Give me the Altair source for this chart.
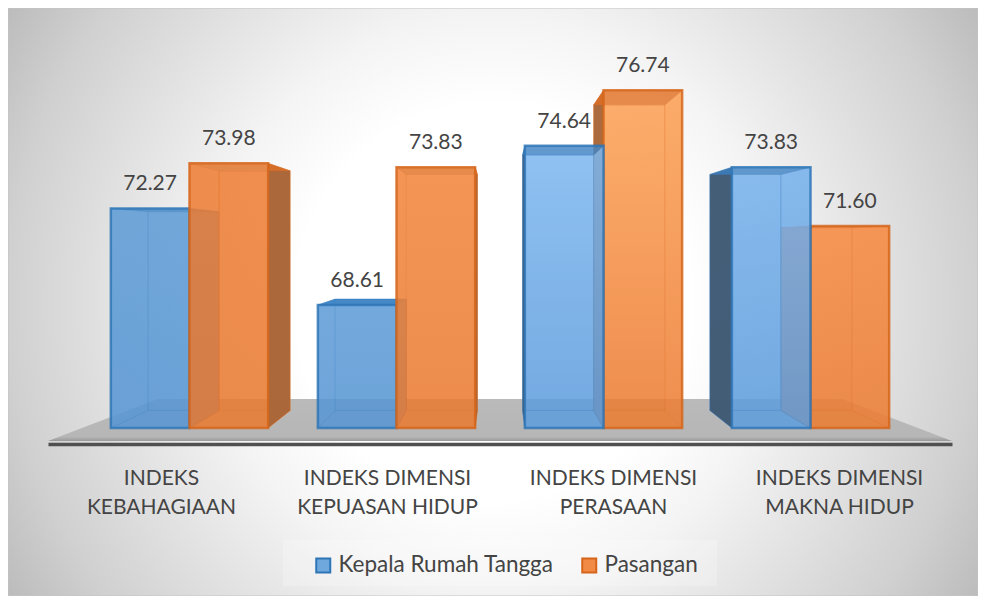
import altair as alt
import pandas as pd

categories = ["INDEKS|KEBAHAGIAAN", "INDEKS DIMENSI|KEPUASAN HIDUP",
              "INDEKS DIMENSI|PERASAAN", "INDEKS DIMENSI|MAKNA HIDUP"]
series = ["Kepala Rumah Tangga", "Pasangan"]
kepala = [72.27, 68.61, 74.64, 73.83]
pasangan = [73.98, 73.83, 76.74, 71.60]

# colour of each bar, top and bottom of its gradient
kepala_top = ["#5B9AD6", "#5B9AD6", "#80BAF3", "#78B3EE"]
kepala_bot = ["#5293D1", "#5293D1", "#5B9CDD", "#5B9CDD"]
pasangan_top = ["#ED7B31", "#F38338", "#FFA356", "#F9893F"]
pasangan_bot = ["#E9772D", "#E9772D", "#EC792F", "#EC792F"]
dark = {"Kepala Rumah Tangga": "#3F566E", "Pasangan": "#A5653A"}
edge = {"Kepala Rumah Tangga": "#3A80C2", "Pasangan": "#E06E22"}
base_fill = {"Kepala Rumah Tangga": "#6FA8DC", "Pasangan": "#F08A45"}

# painter's order in each group: the bar farther from the middle goes first
draw_order = [[0, 1], [0, 1], [1, 0], [1, 0]]

Y_BASE = 63.95          # value at the foot of the bars
Y_VANISH = 70.96        # height of the vanishing point
X_VANISH = 1.5
FRONT = 0.916           # bar plane relative to the axis plane
DEPTH = 0.095           # how far the back of a box shrinks
BAR_W = 0.348
FLOOR_BACK = 0.757
FLOOR_Y_FRONT = 63.46
FLOOR_Y_BACK = 65.05

xs = alt.Scale(domain=[-0.5, 3.5], nice=False, zero=False)
ys = alt.Scale(domain=[63.345, 79.86], nice=False, zero=False)
label_expr = "split(" + str(categories) + "[datum.value], '|')"
x_axis = alt.Axis(values=[0, 1, 2, 3], labelExpr=label_expr, grid=False, ticks=False, title=None,
                  domain=True, domainColor="#505050", domainWidth=3.5, zindex=1,
                  labelFont="Lato", labelFontSize=21, labelColor="#444444",
                  labelLineHeight=29.5, labelPadding=23, labelOverlap=False, labelFlush=False,
                  labelAngle=0, labelAlign="center", labelBaseline="top", labelLimit=400)
X = alt.X("x:Q", scale=xs, axis=x_axis)
Y = alt.Y("y:Q", scale=ys, axis=None)

legend = alt.Legend(title=None, orient="none", legendX=264, legendY=546,
                    direction="horizontal", symbolType="square", symbolSize=196,
                    symbolStrokeWidth=2, symbolOpacity=1, labelFont="Lato", labelLimit=400,
                    labelFontSize=22.5, labelColor="#444444", columnPadding=24,
                    labelOffset=4, padding=0)
fill_enc = alt.Fill("series:N", scale=alt.Scale(domain=series, range=[base_fill[s] for s in series]),
                    legend=legend)
stroke_enc = alt.Stroke("series:N", scale=alt.Scale(domain=series, range=["#2E75B6", "#D5651A"]),
                        legend=legend)


def grad(top, bot):
    return alt.Gradient(gradient="linear", x1=0, x2=0, y1=0, y2=1,
                        stops=[alt.GradientStop(offset=0, color=top),
                               alt.GradientStop(offset=1, color=bot)])


def face(pts, fill, stroke, fo=0.84, sw=1.0, so=0.3):
    closed = pts + [pts[0]]
    df = pd.DataFrame({"x": [p[0] for p in closed], "y": [p[1] for p in closed],
                       "i": list(range(len(closed)))})
    return alt.Chart(df).mark_line(fill=fill, fillOpacity=fo, stroke=stroke, strokeWidth=sw,
                                   strokeOpacity=so).encode(X, Y, order=alt.Order("i:Q"))


def box(group, s_idx):
    values = [kepala, pasangan][s_idx]
    partner = [pasangan, kepala][s_idx][group]
    name = series[s_idx]
    v = values[group]
    top = [kepala_top, pasangan_top][s_idx][group]
    bot = [kepala_bot, pasangan_bot][s_idx][group]
    g = grad(top, bot)
    c = 1.5 + (group - 1.5) * FRONT
    left = c - BAR_W if s_idx == 0 else c
    right = c if s_idx == 0 else c + BAR_W

    def back_x(x):
        return x + DEPTH * (X_VANISH - x)

    def back_y(y):
        return y + DEPTH * (Y_VANISH - y)

    fl, fr, bl, br = left, right, back_x(left), back_x(right)
    yt, yb, byt, byb = v, Y_BASE, back_y(v), back_y(Y_BASE)
    e = edge[name]
    layers = []
    layers.append(face([(bl, byt), (br, byt), (br, byb), (bl, byb)], g, e))
    layers.append(face([(fl, yb), (fr, yb), (br, byb), (bl, byb)], bot, e))
    # the side whose outside is in view is dark, unless the taller neighbour hides it
    left_free = s_idx == 0 or v > partner
    right_free = s_idx == 1 or v > partner
    lfill, lfo = (dark[name], 0.92) if (bl < fl and left_free) else (g, 0.84)
    rfill, rfo = (dark[name], 0.92) if (br > fr and right_free) else (g, 0.84)
    layers.append(face([(fl, yt), (bl, byt), (bl, byb), (fl, yb)], lfill, e, fo=lfo))
    layers.append(face([(fr, yt), (br, byt), (br, byb), (fr, yb)], rfill, e, fo=rfo))
    layers.append(face([(fl, yt), (fr, yt), (br, byt), (bl, byt)], e, e, fo=0.8))
    front = pd.DataFrame({"x": [fl], "x2": [fr], "y": [yt], "y2": [yb], "series": [name]})
    layers.append(alt.Chart(front).mark_rect(fillOpacity=0.12, strokeWidth=2.5, strokeOpacity=0.8).encode(
        X, x2="x2:Q", y=Y, y2="y2:Q", fill=fill_enc, stroke=stroke_enc))
    return layers


background = alt.Chart(pd.DataFrame({"a": [0]})).mark_rect(
    color=alt.Gradient(gradient="radial", x1=0.5, y1=0.5, x2=0.5, y2=0.5, r1=0, r2=0.6,
                       stops=[alt.GradientStop(offset=0, color="#ffffff"),
                              alt.GradientStop(offset=0.34, color="#ffffff"),
                              alt.GradientStop(offset=0.49, color="#f4f4f4"),
                              alt.GradientStop(offset=0.835, color="#d0d0d0"),
                              alt.GradientStop(offset=1, color="#b8b8b8")]),
    stroke="#c4c4c4", strokeWidth=1
).encode(x=alt.value(-40), x2=alt.value(930), y=alt.value(0), y2=alt.value(588))

legend_panel = alt.Chart(pd.DataFrame({"a": [0]})).mark_rect(color="#ffffff", opacity=0.22).encode(
    x=alt.value(235), x2=alt.value(669), y=alt.value(532), y2=alt.value(578))

floor_df = pd.DataFrame({
    "x": [-0.5, X_VANISH - 2 * FLOOR_BACK, X_VANISH + 2 * FLOOR_BACK, 3.5],
    "y": [FLOOR_Y_FRONT, FLOOR_Y_BACK, FLOOR_Y_BACK, FLOOR_Y_FRONT],
    "y2": [FLOOR_Y_FRONT] * 4,
})
floor = alt.Chart(floor_df).mark_area(
    color=alt.Gradient(gradient="linear", x1=0, x2=0, y1=0, y2=1,
                       stops=[alt.GradientStop(offset=0, color="#BABABA"),
                              alt.GradientStop(offset=0.9, color="#B6B6B6"),
                              alt.GradientStop(offset=1, color="#9A9A9A")])
).encode(X, Y, y2="y2:Q")

boxes = []
for g_i in range(4):
    for s_i in draw_order[g_i]:
        boxes += box(g_i, s_i)

label_rows = []
for g_i in range(4):
    c = 1.5 + (g_i - 1.5) * FRONT
    label_rows.append({"x": c - BAR_W / 2, "y": kepala[g_i], "t": f"{kepala[g_i]:.2f}"})
    label_rows.append({"x": c + BAR_W / 2, "y": pasangan[g_i], "t": f"{pasangan[g_i]:.2f}"})
labels = alt.Chart(pd.DataFrame(label_rows)).mark_text(
    font="Lato", fontSize=21, color="#444444", dy=-24, baseline="middle", align="center"
).encode(X, Y, text="t:N")

chart = alt.layer(background, legend_panel, floor, *boxes, labels).properties(
    width=904, height=436, autosize="none",
    padding={"left": 40, "top": 0, "right": 26, "bottom": 152},
    background="white"
).configure_view(stroke=None).resolve_legend(fill="shared", stroke="shared")

chart.save("out.html", embed_options={"renderer": "svg", "actions": False})
